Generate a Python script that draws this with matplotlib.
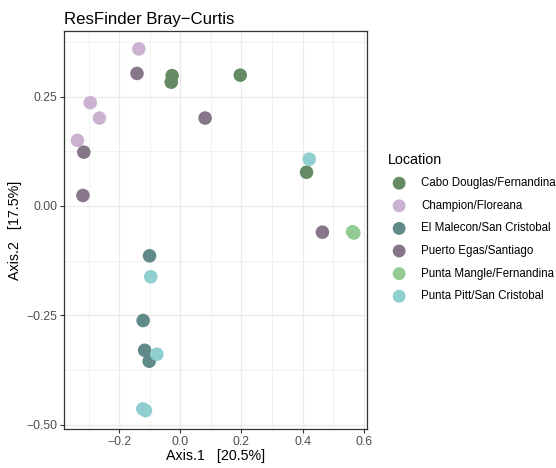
import matplotlib.pyplot as plt
from matplotlib.ticker import MultipleLocator

plt.rcParams['font.family'] = ['Liberation Sans', 'DejaVu Sans']

locations = ['Cabo Douglas/Fernandina', 'Champion/Floreana', 'El Malecon/San Cristobal',
             'Puerto Egas/Santiago', 'Punta Mangle/Fernandina', 'Punta Pitt/San Cristobal']
colors = ['#648b64', '#cbb2d1', '#5f8a88', '#87758a', '#93cb94', '#8fcfcf']

axis1 = {
    'Cabo Douglas/Fernandina': [-0.027, -0.030, 0.196, 0.413],
    'Champion/Floreana': [-0.136, -0.295, -0.265, -0.337],
    'El Malecon/San Cristobal': [-0.101, -0.122, -0.117, -0.102],
    'Puerto Egas/Santiago': [-0.142, 0.081, -0.316, -0.319, 0.465],
    'Punta Mangle/Fernandina': [0.564, 0.568],
    'Punta Pitt/San Cristobal': [0.422, -0.097, -0.077, -0.123, -0.114],
}
axis2 = {
    'Cabo Douglas/Fernandina': [0.298, 0.283, 0.299, 0.077],
    'Champion/Floreana': [0.359, 0.236, 0.201, 0.150],
    'El Malecon/San Cristobal': [-0.114, -0.262, -0.330, -0.355],
    'Puerto Egas/Santiago': [0.303, 0.201, 0.123, 0.024, -0.060],
    'Punta Mangle/Fernandina': [-0.059, -0.062],
    'Punta Pitt/San Cristobal': [0.107, -0.162, -0.339, -0.464, -0.468],
}

fig = plt.figure(figsize=(5.56, 4.68), dpi=100)
ax = fig.add_axes([64 / 556, 1 - 429 / 468, (367.3 - 64) / 556, (429 - 31) / 468])

for loc, col in zip(locations, colors):
    ax.scatter(axis1[loc], axis2[loc], s=95, color=col, edgecolors='none', label=loc, zorder=3)

ax.set_xlim(-0.381, 0.612)
ax.set_ylim(-0.510, 0.400)
ax.xaxis.set_minor_locator(MultipleLocator(0.1))
ax.yaxis.set_minor_locator(MultipleLocator(0.125))
ax.set_xticks([-0.2, 0.0, 0.2, 0.4, 0.6])
ax.set_xticklabels(['−0.2', '0.0', '0.2', '0.4', '0.6'])
ax.set_yticks([-0.5, -0.25, 0.0, 0.25])
ax.set_yticklabels(['−0.50', '−0.25', '0.00', '0.25'])
ax.grid(which='major', color='#ebebeb', lw=1.0, zorder=0)
ax.grid(which='minor', color='#ebebeb', lw=0.5, zorder=0)
ax.tick_params(which='major', length=3, color='#333333', width=0.8, labelsize=8.8, labelcolor='#4d4d4d', pad=2)
ax.tick_params(which='minor', length=0)
for sp in ax.spines.values():
    sp.set_color('#333333')
    sp.set_linewidth(0.9)

ax.set_xlabel('Axis.1   [20.5%]', fontsize=10.3, labelpad=1)
ax.set_ylabel('Axis.2   [17.5%]', fontsize=10.3, labelpad=3)
ax.set_title('ResFinder Bray−Curtis', fontsize=12.1, loc='left', x=-0.0, pad=5)

ax.legend(title='Location', loc='upper left', bbox_to_anchor=(383 / 556, 1 - 148 / 468),
          bbox_transform=fig.transFigure, frameon=False, fontsize=8.3, title_fontsize=10.3,
          markerscale=0.95, handletextpad=0.9, labelspacing=0.92, borderaxespad=0,
          alignment='left')

fig.savefig('out.png', dpi=100)
